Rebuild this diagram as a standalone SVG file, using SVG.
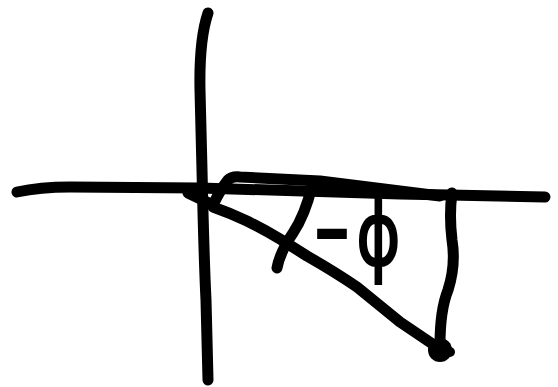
<svg xmlns="http://www.w3.org/2000/svg" width="558" height="387" viewBox="0 0 558 387">
<style>
.s{fill:none;stroke:#000;stroke-width:11;stroke-linecap:round;stroke-linejoin:round}
.t{font-family:"DejaVu Sans",sans-serif;font-size:68px;fill:#000;stroke:#000;stroke-width:1.5}
</style>
<rect width="558" height="387" fill="#fff"/>
<g id="axes">
<path class="s" d="M208,13 Q199,40 200,90 L202,170 Q204,260 206,300 L208,380"/>
<path class="s" d="M17,192 Q40,187 70,187 L200,188 L400,194 L545,197"/>
</g>
<g id="construction">
<path class="s" d="M188,193 L213,205 Q220,190 228,180 Q232,176 240,177 L320,181 L440,196"/>
<path class="s" d="M213,207 Q230,213 247,221 Q265,230 280,239 L307,256 Q335,272 357,287 L400,322 L440,349"/>
<path class="s" d="M452,193 Q449,215 452,240 Q456,265 448,290 Q440,310 440,345"/>
<path class="s" d="M312,186 Q305,215 293,233 Q280,252 277,268"/>
<circle cx="440" cy="350" r="12" fill="#000"/>
<circle cx="450" cy="352" r="5" fill="#000"/>
</g>
<text class="t" transform="translate(0,265) scale(1,1.3)"><tspan x="313" y="-2" font-size="80" textLength="38" lengthAdjust="spacingAndGlyphs">-</tspan><tspan x="356" y="0">ϕ</tspan></text>
</svg>
